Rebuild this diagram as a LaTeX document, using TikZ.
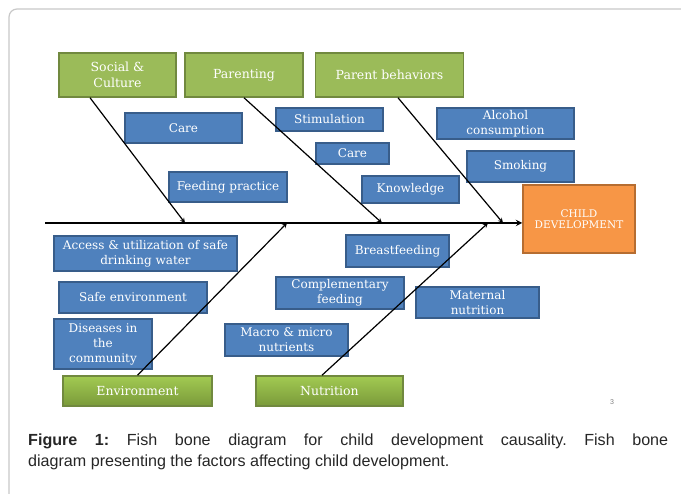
\documentclass[tikz,border=0pt]{standalone}
\usepackage{fontspec}
\setmainfont{DejaVu Serif}
\newfontfamily\captionfont{Liberation Sans}
\usepackage{xcolor}
\usepackage{tikz}
\usetikzlibrary{arrows, positioning}
\definecolor{causegreen}{HTML}{9BBB59}
\definecolor{causeedge}{HTML}{71893F}
\definecolor{causelight}{HTML}{A2CA52}
\definecolor{causedark}{HTML}{7A9A3A}
\definecolor{factorblue}{HTML}{4F81BD}
\definecolor{factoredge}{HTML}{385D8A}
\definecolor{effectorange}{HTML}{F79646}
\definecolor{effectedge}{HTML}{B66D31}
\definecolor{framegray}{HTML}{C8C8C8}

\begin{document}
\begin{tikzpicture}[x=1pt, y=-1pt]
    % Define styles
    \tikzstyle{causebox} = [rectangle, inner sep=0pt, align=center, draw=causeedge, fill=causegreen, line width=1.5pt, text=white, font=\fontsize{12.5}{16}\selectfont]
    \tikzstyle{causeboxlow} = [causebox, top color=causelight, bottom color=causedark]
    \tikzstyle{factorbox} = [rectangle, inner sep=0pt, align=center, draw=factoredge, fill=factorblue, line width=1.2pt, text=white, font=\fontsize{12}{15}\selectfont]
    \tikzstyle{effectbox} = [rectangle, inner sep=0pt, align=center, draw=effectedge, fill=effectorange, line width=1.5pt, text=white, font=\fontsize{10.5}{11.5}\selectfont]
    \tikzstyle{arrow} = [line width=1.2pt,->,>=stealth]
    \tikzstyle{spine} = [line width=1.8pt,->,>=stealth]

    \useasboundingbox (0,0) rectangle (681,494);

    % Page frame
    \draw[framegray, line width=1.2pt, rounded corners=8pt] (9,500) -- (9,9) -- (690,9);

    % Effect
    \node (child) [effectbox, minimum width=112pt, minimum height=68pt] at (579,219) {CHILD\\DEVELOPMENT};

    % Main causes - top row
    \node (social) [causebox, minimum width=117pt, minimum height=44pt] at (117.5,75) {Social \&\\Culture};
    \node (parenting) [causebox, minimum width=118pt, minimum height=44pt] at (244,75) {Parenting};
    \node (behav) [causebox, minimum width=148pt, minimum height=44pt] at (389.5,75) {Parent behaviors};

    % Main causes - bottom row
    \node (environment) [causeboxlow, minimum width=149pt, minimum height=30pt] at (137.5,391) {Environment};
    \node (nutrition) [causeboxlow, minimum width=147pt, minimum height=30pt] at (329.5,391) {Nutrition};

    % Factors - top
    \node (care1) [factorbox, minimum width=117pt, minimum height=30pt] at (183.5,128) {Care};
    \node (feeding) [factorbox, minimum width=118pt, minimum height=30pt] at (228,187) {Feeding practice};
    \node (stimulation) [factorbox, minimum width=107pt, minimum height=23pt] at (329.5,119.5) {Stimulation};
    \node (care2) [factorbox, minimum width=73pt, minimum height=21pt] at (352.5,153.5) {Care};
    \node (knowledge) [factorbox, minimum width=97pt, minimum height=27pt] at (410.5,189.5) {Knowledge};
    \node (alcohol) [factorbox, minimum width=137pt, minimum height=31pt] at (505.5,123.5) {Alcohol\\consumption};
    \node (smoking) [factorbox, minimum width=107pt, minimum height=31pt] at (520.5,166.5) {Smoking};

    % Factors - bottom
    \node (water) [factorbox, minimum width=183pt, minimum height=35pt] at (145.5,253.5) {Access \& utilization of safe\\drinking water};
    \node (safeenv) [factorbox, minimum width=148pt, minimum height=31pt] at (133,297.5) {Safe environment};
    \node (diseases) [factorbox, minimum width=98pt, minimum height=50pt] at (103,344) {Diseases in\\the\\community};
    \node (breast) [factorbox, minimum width=103pt, minimum height=32pt] at (397.5,251) {Breastfeeding};
    \node (complement) [factorbox, minimum width=128pt, minimum height=32pt] at (340,293) {Complementary\\feeding};
    \node (maternal) [factorbox, minimum width=123pt, minimum height=31pt] at (477.5,302.5) {Maternal\\nutrition};
    \node (macro) [factorbox, minimum width=123pt, minimum height=32pt] at (286.5,340) {Macro \& micro\\nutrients};

    % Spine and junctions
    \coordinate (tail) at (45,223);
    \coordinate (jsocial) at (185,223);
    \coordinate (jparent) at (382,223);
    \coordinate (jbehav) at (503,223);
    \coordinate (jenv) at (287,223);
    \coordinate (jnutri) at (488,223);
    \draw [spine] (tail) -- (tail -| child.west);

    % Bones
    \draw [arrow] ([xshift=-27.5pt]social.south) -- (jsocial);
    \draw [arrow] (parenting.south) -- (jparent);
    \draw [arrow] ([xshift=8.5pt]behav.south) -- (jbehav);
    \draw [arrow] (environment.north) -- (jenv);
    \draw [arrow] ([xshift=-7.5pt]nutrition.north) -- (jnutri);

    % Page number and caption
    \node (pagenum) [font=\captionfont\fontsize{7}{8}\selectfont, text=gray] at (612,402) {3};
    \node (caption) [anchor=north west, inner sep=0pt, text width=640pt, align=justify, font=\captionfont\fontsize{16.1}{21}\selectfont, text=black!85] at (28,434) {\frenchspacing\hyphenpenalty=10000 \textbf{Figure 1:} Fish bone diagram for child development causality. Fish bone\linebreak diagram presenting the factors affecting child development.};
\end{tikzpicture}
\end{document}
